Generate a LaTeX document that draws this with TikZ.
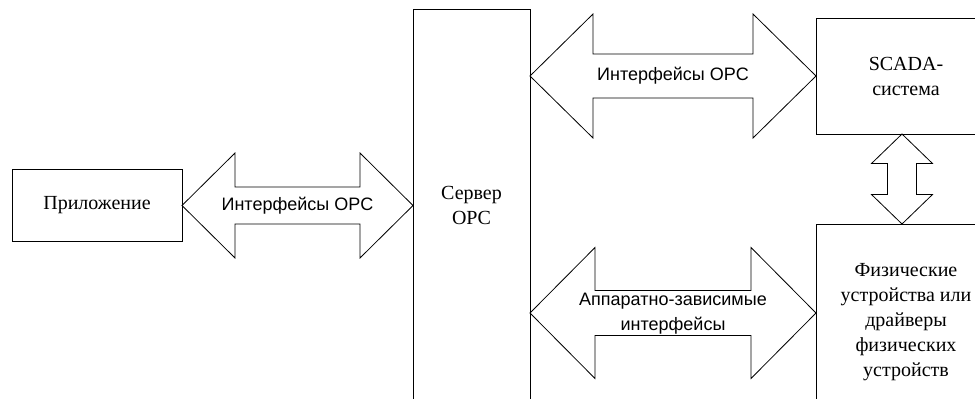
\documentclass[tikz,border=0pt]{standalone}
\usepackage{fontspec}
\setmainfont{Liberation Serif}
\newfontfamily\arialfont{Liberation Sans}
\begin{document}
\begin{tikzpicture}[x=1pt,y=-1pt,
  box/.style={draw=black,line width=0.8pt,rectangle,inner sep=0pt,align=center,font=\fontsize{20}{25}\selectfont},
  arrowshape/.style={draw=black,line width=0.8pt,fill=white,line join=miter},
  arrlabel/.style={align=center,inner sep=0pt,font=\arialfont\fontsize{18}{25}\selectfont}]
\useasboundingbox (0,0) rectangle (975,399);
\clip (0,0) rectangle (975,399);
\newcommand\hdblarrow[6]{%
  \draw[arrowshape] (#1,#3) -- (#1+#4,#3-#5) -- (#1+#4,#3-#6) -- (#2-#4,#3-#6) -- (#2-#4,#3-#5) -- (#2,#3)
    -- (#2-#4,#3+#5) -- (#2-#4,#3+#6) -- (#1+#4,#3+#6) -- (#1+#4,#3+#5) -- cycle;}
\newcommand\vdblarrow[6]{%
  \draw[arrowshape] (#1,#2) -- (#1+#5,#2+#4) -- (#1+#6,#2+#4) -- (#1+#6,#3-#4) -- (#1+#5,#3-#4) -- (#1,#3)
    -- (#1-#5,#3-#4) -- (#1-#6,#3-#4) -- (#1-#6,#2+#4) -- (#1-#5,#2+#4) -- cycle;}
% boxes
\node[box,minimum width=170pt,minimum height=72pt] (app) at (97,205) {Приложение};
\node[box,minimum width=117pt,minimum height=411pt] (server) at (471.5,214.5) {};
\node[align=center,inner sep=0pt,font=\fontsize{20}{25}\selectfont] (servertxt) at (471.5,205.5) {Сервер\\OPC};
\node[box,minimum width=180pt,minimum height=116pt] (scada) at (906,76) {SCADA-\\система};
\node[box,minimum width=180pt,minimum height=196pt] (dev) at (906,322) {Физические\\устройства или\\драйверы\\физических\\устройств};
% arrows
\hdblarrow{182}{413}{205.5}{53}{52.5}{18.5}
\node[arrlabel] (a1) at (297.5,205.5) {Интерфейсы OPC};
\hdblarrow{530}{816}{76}{63}{62}{22}
\node[arrlabel] (a2) at (673,76) {Интерфейсы OPC};
\hdblarrow{530}{816}{313}{65}{65.5}{22.5}
\node[arrlabel] (a3) at (673,314) {Аппаратно-зависимые\\интерфейсы};
\vdblarrow{902}{134}{224}{29.5}{30.5}{14.5}
\end{tikzpicture}
\end{document}
